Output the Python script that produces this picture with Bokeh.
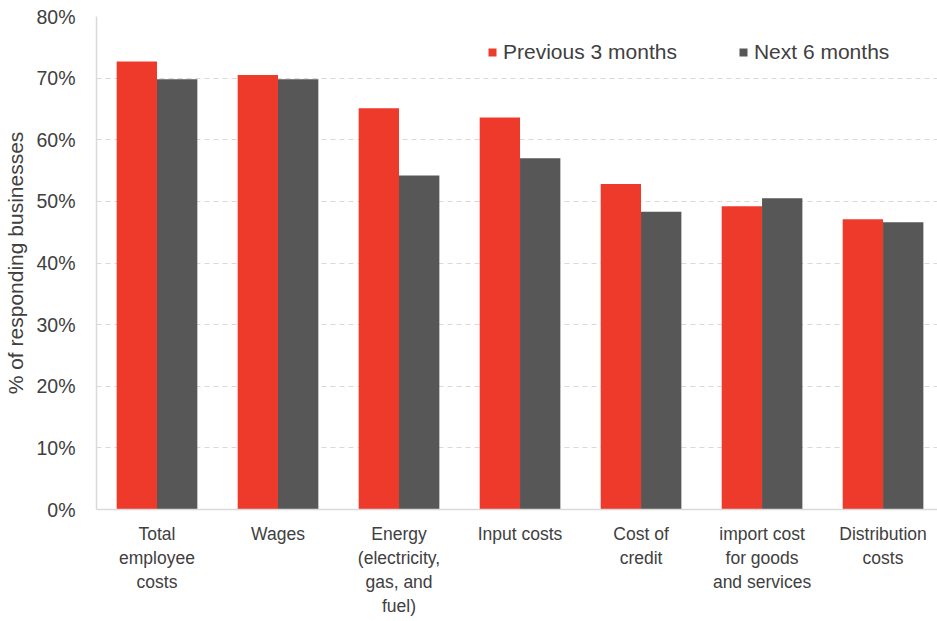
from bokeh.plotting import figure
from bokeh.models import ColumnDataSource, Range1d, NumeralTickFormatter, FixedTicker, Legend, LegendItem
from bokeh.embed import file_html
from bokeh.resources import INLINE

categories = ["Total\nemployee\ncosts", "Wages", "Energy\n(electricity,\ngas, and\nfuel)", "Input costs",
              "Cost of\ncredit", "import cost\nfor goods\nand services", "Distribution\ncosts"]
previous_3_months = [0.727, 0.705, 0.651, 0.636, 0.528, 0.492, 0.471]
next_6_months = [0.698, 0.698, 0.542, 0.570, 0.483, 0.505, 0.466]
y_ticks = [0, 0.1, 0.2, 0.3, 0.4, 0.5, 0.6, 0.7, 0.8]

RED = "#EE3A2B"
GREY = "#575757"
TXT = "#404040"
FONT = "Liberation Sans"

centers = [i + 0.5 for i in range(len(categories))]
src = ColumnDataSource(dict(
    x_prev=[c - 1/6 for c in centers], x_next=[c + 1/6 for c in centers],
    prev=previous_3_months, nxt=next_6_months))

p = figure(width=937, height=621, x_range=Range1d(0, 6.95), y_range=Range1d(0, 0.8),
           output_backend="svg", toolbar_location=None,
           min_border_left=96, min_border_right=0, min_border_top=16, min_border_bottom=112)

r1 = p.vbar(x="x_prev", top="prev", width=1/3, source=src, fill_color=RED, line_color=None)
r2 = p.vbar(x="x_next", top="nxt", width=1/3, source=src, fill_color=GREY, line_color=None)

p.outline_line_color = None
p.xgrid.grid_line_color = None
p.ygrid.grid_line_color = "#d9d9d9"
p.ygrid.grid_line_dash = "5 4"
p.ygrid.grid_line_width = 1

p.yaxis.ticker = FixedTicker(ticks=y_ticks)
p.yaxis.formatter = NumeralTickFormatter(format="0%")
p.yaxis.axis_label = "% of responding businesses"
p.yaxis.axis_label_text_font = FONT
p.yaxis.axis_label_text_font_style = "normal"
p.yaxis.axis_label_text_font_size = "21px"
p.yaxis.axis_label_text_color = TXT
p.yaxis.axis_label_standoff = 6

p.xaxis.ticker = FixedTicker(ticks=centers)
p.xaxis.major_label_overrides = {c: lab for c, lab in zip(centers, categories)}

for ax in (p.xaxis[0], p.yaxis[0]):
    ax.axis_line_color = "#d9d9d9"
    ax.axis_line_width = 1.5
    ax.major_tick_line_color = None
    ax.minor_tick_line_color = None
    ax.major_label_text_font = FONT
    ax.major_label_text_color = TXT

p.xaxis.major_label_text_font_size = "17.5px"
p.yaxis.major_label_text_font_size = "19.5px"
p.yaxis.major_label_standoff = 15
p.xaxis.major_label_standoff = 8

legend = Legend(items=[LegendItem(label="Previous 3 months", renderers=[r1]),
                       LegendItem(label="Next 6 months", renderers=[r2])],
                orientation="horizontal", location=(391, 445),
                glyph_width=10, glyph_height=10, label_height=24, label_standoff=6,
                spacing=61, padding=0, margin=0, border_line_color=None,
                background_fill_alpha=0,
                label_text_font=FONT, label_text_font_size="21px", label_text_color=TXT)
p.add_layout(legend)

open("out.html", "w").write(file_html(p, INLINE))
